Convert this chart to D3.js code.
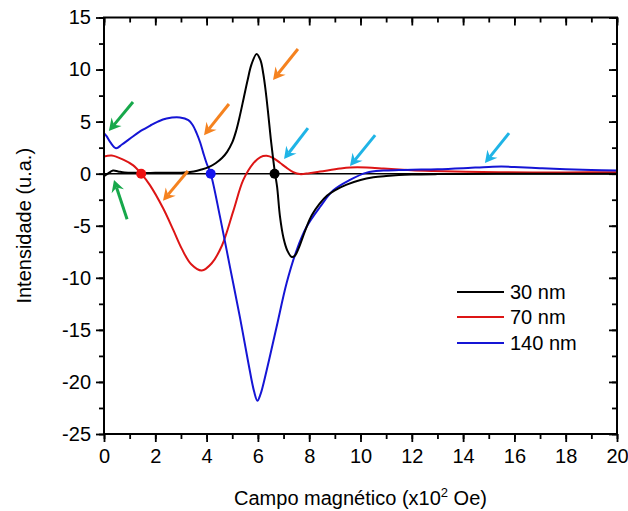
<!DOCTYPE html>
<html>
<head>
<meta charset="utf-8">
<script src="https://cdn.jsdelivr.net/npm/d3@7"></script>
<style>
  html, body { margin: 0; padding: 0; background: #fff; }
  svg { display: block; font-family: "Liberation Sans", Arial, sans-serif; }
</style>
</head>
<body>
<svg id="chart" width="628" height="511"></svg>
<script>
// ---- data ----
const xTicks = [0, 2, 4, 6, 8, 10, 12, 14, 16, 18, 20];
const yTicks = [-25, -20, -15, -10, -5, 0, 5, 10, 15];

const seriesNames = ["30 nm", "70 nm", "140 nm"];
const seriesColors = ["#000000", "#dd1515", "#1515d5"];

const x30 = [0, 0.15, 0.35, 0.55, 0.8, 1.2, 2, 3, 3.5, 3.8, 4.1, 4.35, 4.6, 4.8, 5.0, 5.15, 5.3, 5.45, 5.6, 5.75, 5.95, 6.1, 6.21, 6.3, 6.4, 6.5, 6.6, 6.67, 6.75, 6.86, 7.0, 7.15, 7.32, 7.45, 7.6, 7.75, 7.9, 8.1, 8.4, 8.7, 9.0, 9.46, 10, 10.5, 11, 11.5, 12, 13, 14, 16, 18, 20];
const y30 = [-0.25, 0.0, 0.3, 0.22, 0.12, 0.08, 0.08, 0.1, 0.22, 0.4, 0.65, 1.0, 1.5, 2.1, 3.0, 4.1, 5.6, 7.3, 9.0, 10.5, 11.5, 10.9, 9.6, 8.0, 5.8, 3.4, 1.3, 0, -1.3, -4.1, -6.2, -7.4, -8.0, -7.85, -7.1, -6.1, -5.1, -4.0, -2.9, -2.1, -1.6, -1.05, -0.6, -0.35, -0.22, -0.13, -0.08, -0.04, -0.02, 0, 0, 0];

const x70 = [0, 0.3, 0.75, 1.14, 1.45, 1.79, 2.3, 2.7, 3.03, 3.4, 3.81, 4.2, 4.6, 5.04, 5.43, 5.82, 6.1, 6.34, 6.6, 6.86, 7.1, 7.38, 7.64, 8.0, 8.42, 9.2, 9.6, 10.24, 10.9, 11.5, 12, 12.84, 14.1, 16.7, 18, 20];
const y70 = [1.65, 1.75, 1.35, 0.8, 0, -1.1, -3.3, -5.4, -7.2, -8.7, -9.3, -8.6, -6.9, -3.6, -0.6, 1.0, 1.6, 1.72, 1.5, 1.05, 0.6, 0.15, -0.04, 0.05, 0.2, 0.5, 0.6, 0.6, 0.5, 0.4, 0.32, 0.25, 0.18, 0.12, 0.12, 0.15];

const x140 = [0, 0.1, 0.25, 0.47, 0.7, 1.14, 1.5, 1.79, 2.1, 2.44, 2.96, 3.29, 3.45, 3.61, 3.75, 3.87, 4.0, 4.16, 4.52, 4.91, 5.3, 5.63, 5.85, 5.98, 6.1, 6.34, 6.73, 7.12, 7.51, 7.9, 8.42, 8.94, 9.59, 10.24, 10.89, 11.5, 12, 13, 14, 15, 15.5, 16, 17, 18, 19, 20];
const y140 = [3.9, 3.6, 3.0, 2.45, 2.8, 3.6, 4.2, 4.6, 5.0, 5.3, 5.4, 5.15, 4.7, 3.9, 3.0, 2.0, 1.0, 0, -4.1, -8.95, -13.8, -18.2, -20.9, -21.8, -21.2, -18.9, -14.7, -10.5, -7.35, -5.1, -3.2, -1.6, -0.6, 0.1, 0.3, 0.35, 0.38, 0.42, 0.52, 0.65, 0.68, 0.64, 0.52, 0.42, 0.35, 0.3];

// zero-crossing markers
const dotX = [1.45, 4.16, 6.65];
const dotColors = ["#ee1111", "#1515ee", "#000000"];

// annotation arrows (data coords: tail -> head)
const arrowTailX = [1.13, 0.90, 7.56, 4.87, 3.27, 7.95, 10.57, 15.79];
const arrowTailY = [6.88, -4.37, 11.98, 6.69, 0.25, 4.38, 3.70, 3.90];
const arrowHeadX = [0.19, 0.39, 6.59, 3.90, 2.30, 7.02, 9.59, 14.85];
const arrowHeadY = [4.10, -0.60, 9.00, 3.70, -2.60, 1.40, 0.73, 1.02];
const arrowColors = ["#17a84b", "#17a84b", "#f5821f", "#f5821f", "#f5821f", "#1fb4e6", "#1fb4e6", "#1fb4e6"];

// ---- layout ----
const W = 628, H = 511;
const m = { left: 104, top: 17.5, right: 11, bottom: 77 };
const iw = W - m.left - m.right, ih = H - m.top - m.bottom;

const svg = d3.select("#chart");
const g = svg.append("g").attr("transform", `translate(${m.left},${m.top})`);

const x = d3.scaleLinear().domain([0, 20]).range([0, iw]);
const y = d3.scaleLinear().domain([-25, 15]).range([ih, 0]);

svg.append("clipPath").attr("id", "clip").append("rect")
  .attr("width", iw).attr("height", ih);

// zero line
g.append("line")
  .attr("x1", x(0)).attr("x2", x(20)).attr("y1", y(0)).attr("y2", y(0))
  .attr("stroke", "#000").attr("stroke-width", 1.5);

// series
const line = d3.line().x(d => x(d[0])).y(d => y(d[1])).curve(d3.curveCatmullRom.alpha(0.5));
const series = [
  d3.zip(x30, y30),
  d3.zip(x70, y70),
  d3.zip(x140, y140)
];
const drawOrder = [1, 2, 0];
const plot = g.append("g").attr("clip-path", "url(#clip)");
drawOrder.forEach(i => {
  plot.append("path").datum(series[i])
    .attr("d", line).attr("fill", "none")
    .attr("stroke", seriesColors[i]).attr("stroke-width", 2)
    .attr("stroke-linejoin", "round");
});

// dots
dotX.forEach((v, i) => {
  g.append("circle").attr("cx", x(v)).attr("cy", y(0)).attr("r", 5)
    .attr("fill", dotColors[i]);
});

// arrows
arrowTailX.forEach((tx, i) => {
  const x1 = x(tx), y1 = y(arrowTailY[i]);
  const x2 = x(arrowHeadX[i]), y2 = y(arrowHeadY[i]);
  const dx = x2 - x1, dy = y2 - y1, L = Math.hypot(dx, dy);
  const ux = dx / L, uy = dy / L, px = -uy, py = ux;
  const hl = 12, hw = 6.5, notch = 8;
  g.append("line")
    .attr("x1", x1).attr("y1", y1)
    .attr("x2", x2 - ux * notch).attr("y2", y2 - uy * notch)
    .attr("stroke", arrowColors[i]).attr("stroke-width", 3);
  const pts = [
    [x2, y2],
    [x2 - ux * hl + px * hw, y2 - uy * hl + py * hw],
    [x2 - ux * notch, y2 - uy * notch],
    [x2 - ux * hl - px * hw, y2 - uy * hl - py * hw]
  ];
  g.append("polygon").attr("points", pts.map(p => p.join(",")).join(" "))
    .attr("fill", arrowColors[i]);
});

// axes
const fontSize = "20px";
const xMinor = d3.range(0, 21, 1);
const yMinor = d3.range(-25, 15.1, 2.5);
const fmt = d => String(d);

function styleAxis(sel) {
  sel.select(".domain").remove();
  sel.selectAll("line").attr("stroke", "#000").attr("stroke-width", 1.8);
  sel.selectAll("text").attr("font-size", fontSize).attr("fill", "#000")
    .attr("font-family", "'Liberation Sans', Arial, sans-serif");
}

// bottom
g.append("g").attr("transform", `translate(0,${ih})`)
  .call(d3.axisBottom(x).tickValues(xMinor).tickSize(5).tickFormat(""))
  .call(styleAxis);
g.append("g").attr("transform", `translate(0,${ih})`)
  .call(d3.axisBottom(x).tickValues(xTicks).tickSize(8).tickPadding(7).tickFormat(fmt))
  .call(styleAxis);
// top (inside)
g.append("g")
  .call(d3.axisTop(x).tickValues(xMinor).tickSize(-5).tickFormat(""))
  .call(styleAxis);
g.append("g")
  .call(d3.axisTop(x).tickValues(xTicks).tickSize(-8).tickFormat(""))
  .call(styleAxis);
// left
g.append("g")
  .call(d3.axisLeft(y).tickValues(yMinor).tickSize(5).tickFormat(""))
  .call(styleAxis);
g.append("g")
  .call(d3.axisLeft(y).tickValues(yTicks).tickSize(8).tickPadding(5).tickFormat(fmt))
  .call(styleAxis);
// right (inside)
g.append("g").attr("transform", `translate(${iw},0)`)
  .call(d3.axisRight(y).tickValues(yMinor).tickSize(-5).tickFormat(""))
  .call(styleAxis);
g.append("g").attr("transform", `translate(${iw},0)`)
  .call(d3.axisRight(y).tickValues(yTicks).tickSize(-8).tickFormat(""))
  .call(styleAxis);

// frame
g.append("rect").attr("width", iw).attr("height", ih)
  .attr("fill", "none").attr("stroke", "#000").attr("stroke-width", 2);

// axis titles
const xt = svg.append("text")
  .attr("x", m.left + iw / 2).attr("y", 505)
  .attr("text-anchor", "middle").attr("font-size", "20px").attr("fill", "#000");
xt.append("tspan").text("Campo magnético (x10");
xt.append("tspan").attr("font-size", "13px").attr("dy", "-8").text("2");
xt.append("tspan").attr("dy", "8").text(" Oe)");

svg.append("text")
  .attr("transform", `translate(31,${m.top + ih / 2}) rotate(-90)`)
  .attr("text-anchor", "middle").attr("font-size", "20px").attr("fill", "#000")
  .text("Intensidade (u.a.)");

// legend
const legY = [292, 317, 343];
seriesNames.forEach((name, i) => {
  svg.append("line").attr("x1", 457).attr("x2", 504)
    .attr("y1", legY[i]).attr("y2", legY[i])
    .attr("stroke", seriesColors[i]).attr("stroke-width", 2);
  svg.append("text").attr("x", 510).attr("y", legY[i]).attr("dy", "0.35em")
    .attr("font-size", "20px").attr("fill", "#000").text(name);
});
</script>
</body>
</html>
